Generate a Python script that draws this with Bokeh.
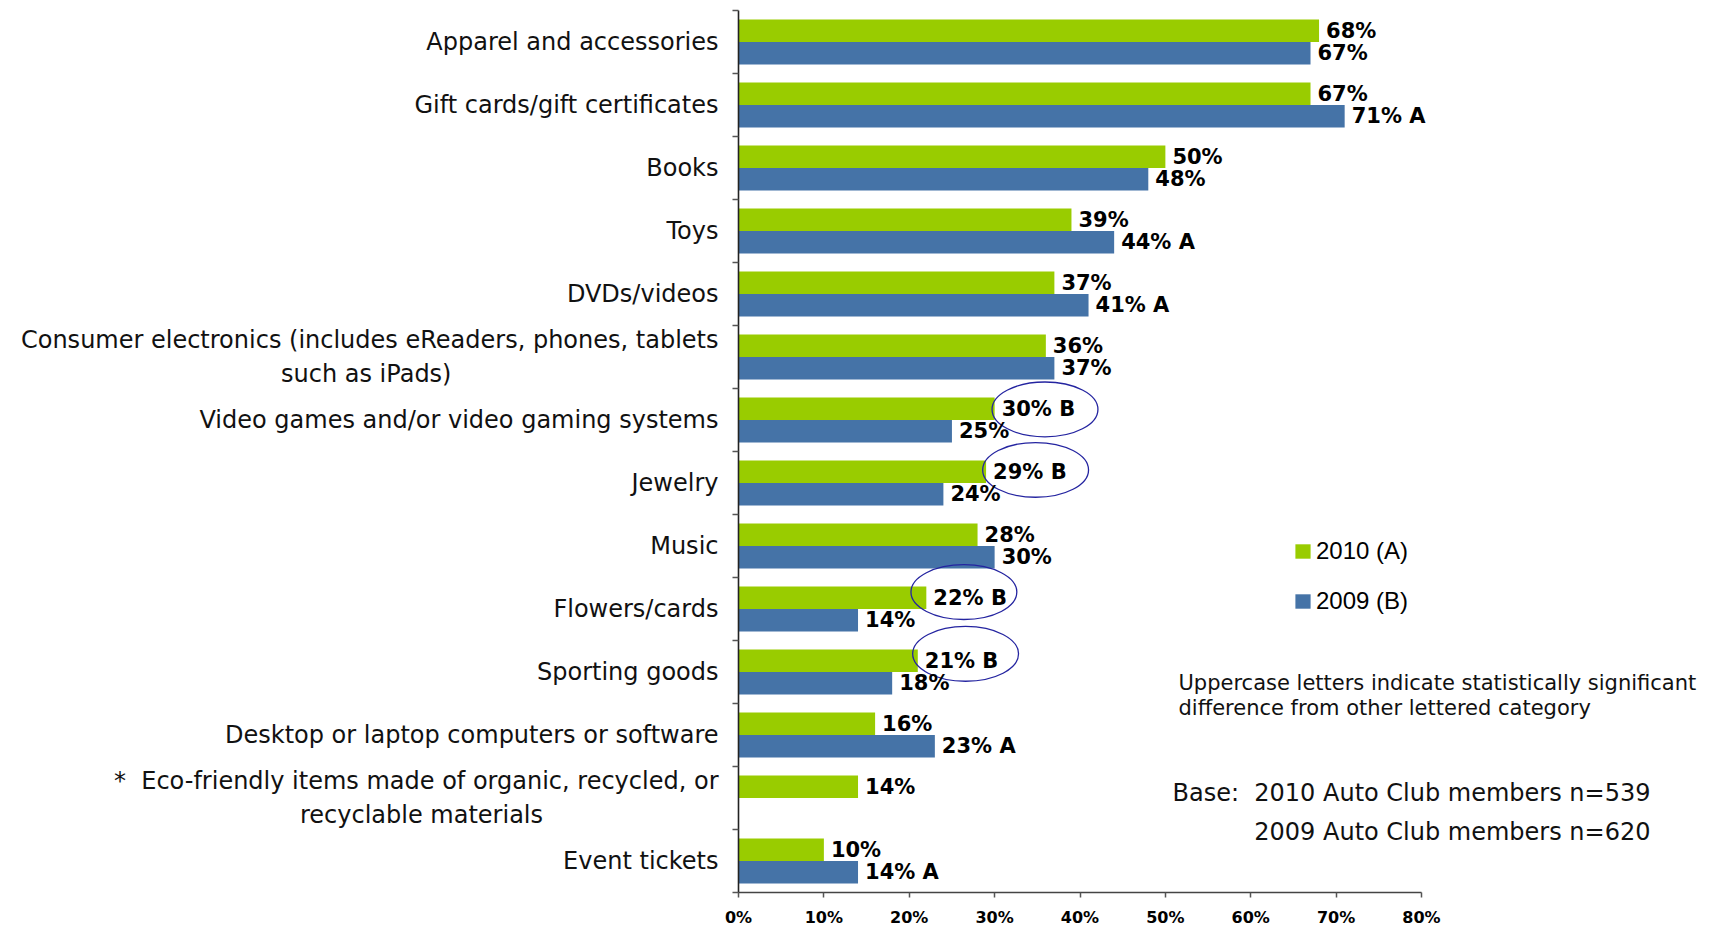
import numpy as np
from bokeh.plotting import figure
from bokeh.models import (ColumnDataSource, Range1d, FixedTicker, PrintfTickFormatter,
                          Label, Legend, LegendItem)
from bokeh.core.properties import value
from bokeh.embed import file_html
from bokeh.resources import INLINE

NB = "\u00a0"

categories = [
    "Apparel and accessories",
    "Gift cards/gift certificates",
    "Books",
    "Toys",
    "DVDs/videos",
    "Consumer electronics (includes eReaders, phones, tablets\nsuch as iPads)",
    "Video games and/or video gaming systems",
    "Jewelry",
    "Music",
    "Flowers/cards",
    "Sporting goods",
    "Desktop or laptop computers or software",
    "*" + NB + NB + "Eco-friendly items made of organic, recycled, or\nrecyclable materials",
    "Event tickets",
]
vals_2010 = [68, 67, 50, 39, 37, 36, 30, 29, 28, 22, 21, 16, 14, 10]
vals_2009 = [67, 71, 48, 44, 41, 37, 25, 24, 30, 14, 18, 23, None, 14]
sig_2010 = ["", "", "", "", "", "", "B", "B", "", "B", "B", "", "", ""]
sig_2009 = ["", "A", "", "A", "A", "", "", "", "", "", "", "A", "", "A"]
x_ticks = [0, 10, 20, 30, 40, 50, 60, 70, 80]
legend_labels = ["2010 (A)", "2009 (B)"]
note_lines = ["Uppercase letters indicate statistically significant",
              "difference from other lettered category"]
base_lines = ["Base:" + NB + " 2010 Auto Club members n=539",
              "2009 Auto Club members n=620"]

GREEN = "#99CC00"
BLUE = "#4573A7"
RING = "#2424A0"
FONT = "DejaVu Sans"

# centre the second line of two-line category labels (trailing no-break spaces)
PAD = {5: 35, 12: 23}
# hand-drawn rings: nudges (x in % units, y in band units) relative to the 2010 label
RING_NUDGE = {6: (5.9, 0.01), 7: (5.8, -0.03), 9: (4.4, -0.09), 10: (5.6, -0.11)}

def tick_text(i, c):
    if i in PAD:
        return c + NB * PAD[i]
    return c

n = len(categories)
idx = np.arange(n)
BAR_H = 0.356
OFF = BAR_H / 2

def lab(v, s):
    return f"{v}%" + (f" {s}" if s else "")

src10 = ColumnDataSource(dict(
    y=idx - OFF, right=vals_2010,
    lx=vals_2010, label=[lab(v, s) for v, s in zip(vals_2010, sig_2010)]))
i09 = [i for i, v in enumerate(vals_2009) if v is not None]
v09 = [vals_2009[i] for i in i09]
src09 = ColumnDataSource(dict(
    y=np.array(i09) + OFF, right=v09,
    lx=v09, label=[lab(vals_2009[i], sig_2009[i]) for i in i09]))

circ = [i for i, s in enumerate(sig_2010) if s == "B"]
src_ring = ColumnDataSource(dict(
    x=[vals_2010[i] + RING_NUDGE.get(i, (5.5, 0))[0] for i in circ],
    y=[i - OFF + RING_NUDGE.get(i, (5.5, 0))[1] for i in circ]))

PX_PER = 683 / 80.0
LEFT, TOP = 738, 10
FRAME_W, FRAME_H = 962, 885
W, H = 1712, 929
p = figure(width=W, height=H, output_backend="svg", toolbar_location=None,
           x_range=Range1d(0, FRAME_W / PX_PER), y_range=Range1d(n - 0.5, -0.5),
           min_border_left=LEFT, min_border_right=W - LEFT - FRAME_W,
           min_border_top=TOP, min_border_bottom=H - TOP - FRAME_H)
p.outline_line_color = None
p.xgrid.visible = False
p.ygrid.visible = False
p.background_fill_color = "white"
p.border_fill_color = "white"

r10 = p.hbar(y="y", left=0, right="right", height=BAR_H, source=src10,
             fill_color=GREEN, line_color=None)
r09 = p.hbar(y="y", left=0, right="right", height=BAR_H, source=src09,
             fill_color=BLUE, line_color=None)

p.ellipse(x="x", y="y", width=12.4, height=0.87, source=src_ring,
          fill_color=None, line_color=RING, line_width=1.3)

for s in (src10, src09):
    p.text(x="lx", y="y", text="label", source=s, x_offset=7,
           text_baseline="middle", text_align="left",
           text_font=value(FONT), text_font_style="bold",
           text_font_size="21px", text_color="#000000")

# x axis
xa = p.xaxis[0]
xa.ticker = FixedTicker(ticks=x_ticks, minor_ticks=[])
xa.formatter = PrintfTickFormatter(format="%d%%")
xa.bounds = (-0.82, 80)
xa.axis_line_color = "#444444"
xa.axis_line_width = 1.6
xa.major_tick_out = 5
xa.major_tick_in = 0
xa.major_tick_line_color = "#555555"
xa.major_tick_line_width = 1.5
xa.minor_tick_line_color = None
xa.major_label_standoff = 10
xa.major_label_text_font = FONT
xa.major_label_text_font_style = "bold"
xa.major_label_text_font_size = "16px"
xa.major_label_text_color = "#000000"

# y axis
ya = p.yaxis[0]
ya.ticker = FixedTicker(ticks=list(idx), minor_ticks=list(np.arange(-0.5, n, 1.0)))
ya.major_label_overrides = {int(i): tick_text(i, c) for i, c in zip(idx, categories)}
ya.axis_line_color = "#222222"
ya.axis_line_width = 1.6
ya.major_tick_out = 0
ya.major_tick_in = 0
ya.minor_tick_out = 6
ya.minor_tick_in = 0
ya.minor_tick_line_color = "#555555"
ya.minor_tick_line_width = 1.5
ya.major_label_standoff = 14
ya.major_label_text_font = FONT
ya.major_label_text_font_size = "24px"
ya.major_label_text_color = "#111111"
ya.major_label_text_align = "right"

legend = Legend(items=[LegendItem(label=legend_labels[0], renderers=[r10]),
                       LegendItem(label=legend_labels[1], renderers=[r09])],
                location=(555, 277), orientation="vertical",
                glyph_width=19, glyph_height=18, label_standoff=4,
                label_text_font="Liberation Sans",
                label_text_font_size="24px", label_text_color="#000000",
                spacing=22, padding=0, margin=0,
                background_fill_alpha=0, border_line_color=None)
p.add_layout(legend)

for k, t in enumerate(note_lines):
    p.add_layout(Label(x=440, y=210 - 25 * k, x_units="screen", y_units="screen",
                       text=t, text_font=FONT, text_font_size="21px",
                       text_baseline="middle", text_align="left", text_color="#111111"))
for k, t in enumerate(base_lines):
    p.add_layout(Label(x=912, y=100 - 39 * k, x_units="screen", y_units="screen",
                       text=t, text_font=FONT, text_font_size="24px",
                       text_baseline="middle", text_align="right", text_color="#111111"))

open("out.html", "w").write(file_html(p, INLINE))
